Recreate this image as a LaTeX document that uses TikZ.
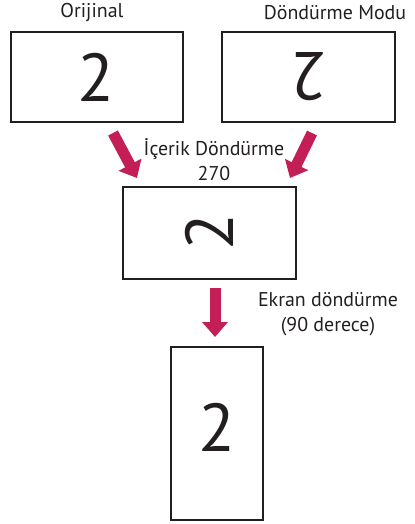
\documentclass[tikz,border=0pt]{standalone}
\usepackage{fontspec}
\setmainfont{PT Sans}
\usetikzlibrary{arrows.meta}
\definecolor{arrowred}{RGB}{196,30,86}
\definecolor{ink}{RGB}{35,31,32}
\begin{document}
\begin{tikzpicture}[x=1bp,y=-1bp,
  screen/.style={draw=ink, line width=2.5bp, inner sep=0pt, minimum width=#1},
  digit/.style={text=ink, inner sep=0pt, font=\fontsize{68}{68}\selectfont},
  lbl/.style={text=ink, inner sep=0pt, align=center, font=\fontsize{20}{25}\selectfont},
  bigarrow/.style={draw=arrowred, line width=11bp, -{Triangle[width=25bp,length=15bp]}, arrowred}]
\useasboundingbox (0,0) rectangle (414,524);
% screens
\node[screen=172bp, minimum height=90bp] (b1) at (97,77) {};
\node[screen=173bp, minimum height=90bp] (b2) at (308.5,77) {};
\node[screen=173bp, minimum height=92bp] (b3) at (209.5,233) {};
\node[screen=92bp, minimum height=173bp] (b4) at (217,433.5) {};
% digits
\node[digit] (d1) at (96,77) {2};
\node[digit, rotate=180] (d2) at (309,77) {2};
\node[digit, rotate=90] (d3) at (209,232) {2};
\node[digit] (d4) at (217,427.5) {2};
% labels
\node[lbl] (l1) at (92,13) {Orijinal};
\node[lbl] (l2) at (335,13) {Döndürme Modu};
\node[lbl] (l3) at (214,159.5) {İçerik Döndürme\\270};
\node[lbl] (l4) at (328,314.5) {Ekran döndürme\\(90 derece)};
% arrows
\coordinate (a1s) at (113,133);
\coordinate (a1e) at (137,178);
\coordinate (a2s) at (312,133);
\coordinate (a2e) at (290,178);
\coordinate (a3s) at (215,288);
\coordinate (a3e) at (215,337);
\draw[bigarrow] (a1s) -- (a1e);
\draw[bigarrow] (a2s) -- (a2e);
\draw[bigarrow] (a3s) -- (a3e);
\end{tikzpicture}
\end{document}
